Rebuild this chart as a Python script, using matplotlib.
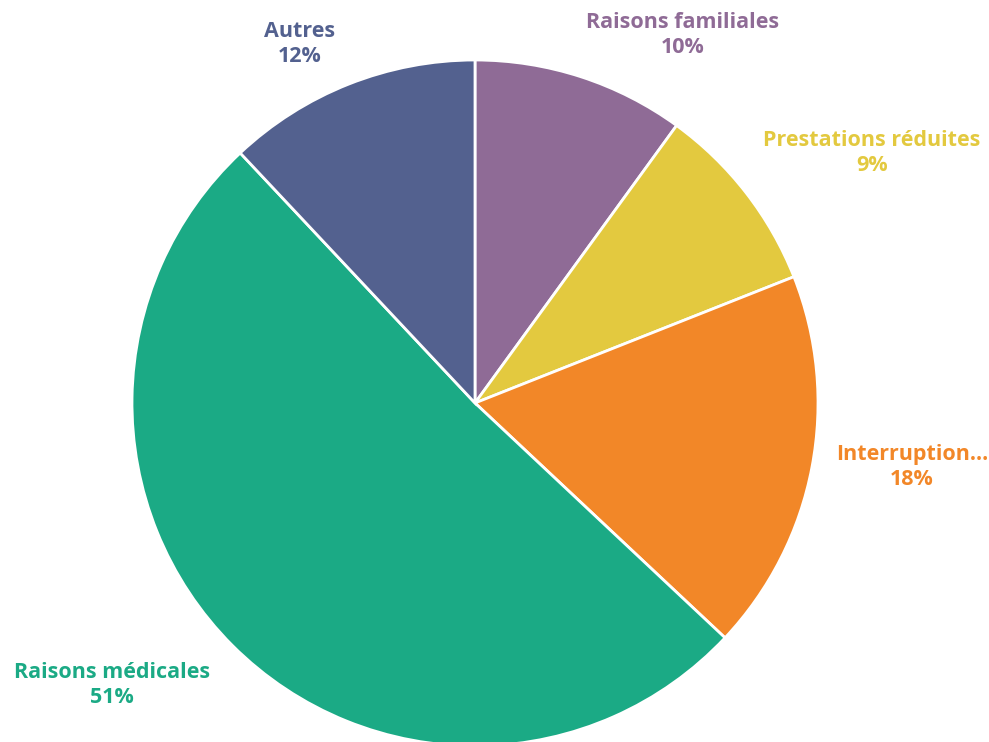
import matplotlib

matplotlib.use("Agg")
import matplotlib.pyplot as plt

# Motifs, clockwise from 12 o'clock
labels = ["Raisons familiales", "Prestations réduites", "Interruption...", "Raisons médicales", "Autres"]
shares = [10, 9, 18, 51, 12]
colors = ["#8F6B96", "#E3C93F", "#F28728", "#1BAA85", "#53618F"]

# label anchor points (pixels, origin bottom-left)
label_pos = [(683, 707), (872, 589), (912, 275), (112, 57), (300, 698)]


def main() -> None:
    W, H = 989, 742
    fig = plt.figure(figsize=(W / 100, H / 100), dpi=100)
    ax = fig.add_axes([0, 0, 1, 1])

    ax.pie(
        shares,
        colors=colors,
        startangle=90,
        counterclock=False,
        radius=343,
        center=(475, H - 403),
        wedgeprops=dict(edgecolor="white", linewidth=2),
        frame=True,
    )
    ax.set_xlim(0, W)
    ax.set_ylim(0, H)
    ax.set_aspect("equal")
    ax.axis("off")

    for lab, val, col, (x, y) in zip(labels, shares, colors, label_pos):
        ax.text(x, y, f"{lab}\n{val}%", color=col, ha="center", va="center",
                fontsize=15.5, fontweight="bold", family="Open Sans", linespacing=1.25)

    fig.savefig("out.png", dpi=100)


if __name__ == "__main__":
    main()
